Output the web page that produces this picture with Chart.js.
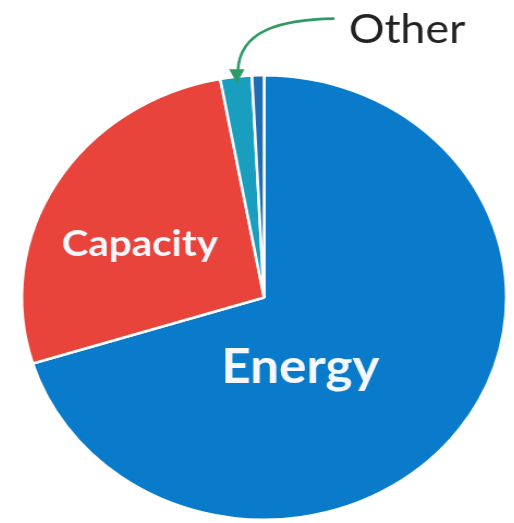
<!DOCTYPE html>
<html>
<head>
<meta charset="utf-8">
<script src="https://cdn.jsdelivr.net/npm/chart.js@4"></script>
<style>
  html, body { margin: 0; padding: 0; background: #fff; overflow: hidden; }
  #wrap { width: 514px; height: 523px; }
  /* the source image is a little wider than tall */
  #revenueChart { transform: scaleX(1.09); transform-origin: 257px 0; }
</style>
</head>
<body>
<div id="wrap"><canvas id="revenueChart" width="514" height="523"></canvas></div>
<script>
const categories = ['Energy', 'Capacity', 'Other', 'Other (minor)'];
const shares = [70.2, 26.9, 2.1, 0.8];
const sliceColors = ['#0a7bcb', '#e8443b', '#1a9ebf', '#1e6db3'];
// labels written inside the slices; '' = no label
const insideLabels = ['Energy', 'Capacity', '', ''];

// text labels drawn on top of the pie, placed from the pie centre and radius
const sliceText = {
  id: 'sliceText',
  afterDatasetsDraw(chart) {
    const ctx = chart.ctx;
    const arcs = chart.getDatasetMeta(0).data;
    const cx = arcs[0].x, cy = arcs[0].y, R = arcs[0].outerRadius;
    ctx.save();
    ctx.fillStyle = '#f4f7fb';
    ctx.textAlign = 'center';
    ctx.textBaseline = 'alphabetic';
    ctx.font = 'bold 47px Lato';
    ctx.fillText(insideLabels[0], cx + 0.15 * R, cy + 0.386 * R);
    ctx.font = 'bold 37px Lato';
    ctx.fillText(insideLabels[1], cx - 0.513 * R, cy - 0.188 * R);

    // "Other" callout with a curved arrow into the teal slice
    ctx.fillStyle = '#222';
    ctx.font = '41px Lato';
    ctx.fillText(categories[2], cx + 0.59 * R, cy - 1.143 * R);

    const other = arcs[2];
    const mid = (other.startAngle + other.endAngle) / 2;
    const tx = cx + Math.cos(mid) * R * 0.97;
    const ty = cy + Math.sin(mid) * R * 0.97;
    const sx = cx + 0.29 * R, sy = cy - 1.255 * R;
    ctx.strokeStyle = '#2f9a66';
    ctx.fillStyle = '#2f9a66';
    ctx.lineWidth = 2.6;
    ctx.beginPath();
    ctx.moveTo(sx, sy);
    ctx.bezierCurveTo(sx - 50, sy + 1, tx + 2, sy + 12, tx + 1, ty - 12);
    ctx.stroke();
    ctx.beginPath();
    ctx.moveTo(tx, ty);
    ctx.lineTo(tx - 7, ty - 14);
    ctx.lineTo(tx + 7, ty - 14);
    ctx.closePath();
    ctx.fill();
    ctx.restore();
  }
};

function createChart() {
  new Chart(document.getElementById('revenueChart'), {
    type: 'pie',
    data: {
      labels: categories,
      datasets: [{
        data: shares,
        backgroundColor: sliceColors,
        borderColor: '#ffffff',
        borderWidth: 2.5
      }]
    },
    options: {
      responsive: false,
      animation: false,
      layout: { padding: { top: 74, bottom: 2, left: 40, right: 27 } },
      plugins: {
        legend: { display: false },
        tooltip: { enabled: false }
      }
    },
    plugins: [sliceText]
  });
}

Promise.all([
  document.fonts.load('bold 40px Lato'),
  document.fonts.load('40px Lato')
]).then(createChart, createChart);
</script>
</body>
</html>
